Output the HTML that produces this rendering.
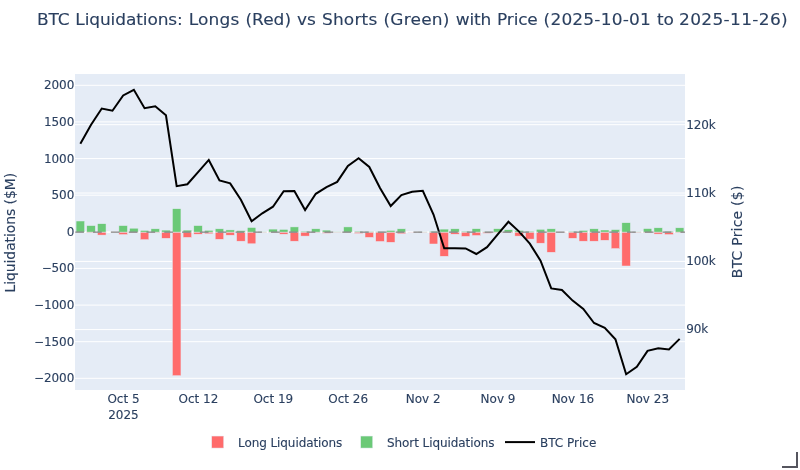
<!DOCTYPE html>
<html lang="en"><head><meta charset="utf-8"><title>BTC Liquidations</title>
<style>html,body{margin:0;padding:0;background:#fff;}body{width:800px;height:470px;overflow:hidden;}svg{display:block;}text{font-family:"DejaVu Sans", Verdana, "Liberation Sans", sans-serif;fill:#2a3f5f;stroke:#2a3f5f;stroke-width:0.12px;}</style></head><body>
<svg width="800" height="470" viewBox="0 0 800 470">
<rect x="0" y="0" width="800" height="470" fill="#ffffff"/>
<rect x="75" y="74" width="610" height="316" fill="#e5ecf6"/>
<g stroke="#ffffff" stroke-width="1">
<line x1="75" x2="685" y1="85.3" y2="85.3"/>
<line x1="75" x2="685" y1="121.9" y2="121.9"/>
<line x1="75" x2="685" y1="158.6" y2="158.6"/>
<line x1="75" x2="685" y1="195.2" y2="195.2"/>
<line x1="75" x2="685" y1="268.4" y2="268.4"/>
<line x1="75" x2="685" y1="305.1" y2="305.1"/>
<line x1="75" x2="685" y1="341.7" y2="341.7"/>
<line x1="75" x2="685" y1="378.3" y2="378.3"/>
<line x1="75" x2="685" y1="124.7" y2="124.7"/>
<line x1="75" x2="685" y1="193.0" y2="193.0"/>
<line x1="75" x2="685" y1="261.4" y2="261.4"/>
<line x1="75" x2="685" y1="329.6" y2="329.6"/>
</g>
<rect x="75" y="231.3" width="610" height="1.6" fill="#ffffff"/>
<g stroke="#e5ecf6" stroke-width="0.5">
<rect x="76.07" y="221.00" width="8.56" height="11.10" fill="#6bc977"/>
<rect x="86.77" y="232.10" width="8.56" height="0.60" fill="#ff6b6b"/>
<rect x="86.77" y="225.60" width="8.56" height="6.50" fill="#6bc977"/>
<rect x="97.47" y="232.10" width="8.56" height="3.00" fill="#ff6b6b"/>
<rect x="97.47" y="223.70" width="8.56" height="8.40" fill="#6bc977"/>
<rect x="118.88" y="232.10" width="8.56" height="2.50" fill="#ff6b6b"/>
<rect x="118.88" y="225.60" width="8.56" height="6.50" fill="#6bc977"/>
<rect x="129.58" y="232.10" width="8.56" height="0.50" fill="#ff6b6b"/>
<rect x="129.58" y="228.20" width="8.56" height="3.90" fill="#6bc977"/>
<rect x="140.28" y="232.10" width="8.56" height="7.60" fill="#ff6b6b"/>
<rect x="140.28" y="230.40" width="8.56" height="1.70" fill="#6bc977"/>
<rect x="150.98" y="232.10" width="8.56" height="0.80" fill="#ff6b6b"/>
<rect x="150.98" y="228.80" width="8.56" height="3.30" fill="#6bc977"/>
<rect x="161.68" y="232.10" width="8.56" height="6.20" fill="#ff6b6b"/>
<rect x="161.68" y="230.10" width="8.56" height="2.00" fill="#6bc977"/>
<rect x="172.39" y="232.10" width="8.56" height="143.60" fill="#ff6b6b"/>
<rect x="172.39" y="208.70" width="8.56" height="23.40" fill="#6bc977"/>
<rect x="183.09" y="232.10" width="8.56" height="5.30" fill="#ff6b6b"/>
<rect x="183.09" y="230.10" width="8.56" height="2.00" fill="#6bc977"/>
<rect x="193.79" y="232.10" width="8.56" height="2.10" fill="#ff6b6b"/>
<rect x="193.79" y="225.60" width="8.56" height="6.50" fill="#6bc977"/>
<rect x="204.49" y="232.10" width="8.56" height="1.70" fill="#ff6b6b"/>
<rect x="204.49" y="230.30" width="8.56" height="1.80" fill="#6bc977"/>
<rect x="215.19" y="232.10" width="8.56" height="7.20" fill="#ff6b6b"/>
<rect x="215.19" y="228.80" width="8.56" height="3.30" fill="#6bc977"/>
<rect x="225.89" y="232.10" width="8.56" height="3.10" fill="#ff6b6b"/>
<rect x="225.89" y="229.90" width="8.56" height="2.20" fill="#6bc977"/>
<rect x="236.60" y="232.10" width="8.56" height="9.10" fill="#ff6b6b"/>
<rect x="236.60" y="230.60" width="8.56" height="1.50" fill="#6bc977"/>
<rect x="247.30" y="232.10" width="8.56" height="11.70" fill="#ff6b6b"/>
<rect x="247.30" y="227.50" width="8.56" height="4.60" fill="#6bc977"/>
<rect x="258.00" y="232.10" width="8.56" height="0.30" fill="#ff6b6b"/>
<rect x="258.00" y="231.80" width="8.56" height="0.30" fill="#6bc977"/>
<rect x="268.70" y="232.10" width="8.56" height="0.50" fill="#ff6b6b"/>
<rect x="268.70" y="229.10" width="8.56" height="3.00" fill="#6bc977"/>
<rect x="279.40" y="232.10" width="8.56" height="2.10" fill="#ff6b6b"/>
<rect x="279.40" y="229.40" width="8.56" height="2.70" fill="#6bc977"/>
<rect x="290.11" y="232.10" width="8.56" height="9.10" fill="#ff6b6b"/>
<rect x="290.11" y="226.90" width="8.56" height="5.20" fill="#6bc977"/>
<rect x="300.81" y="232.10" width="8.56" height="4.00" fill="#ff6b6b"/>
<rect x="300.81" y="231.20" width="8.56" height="0.90" fill="#6bc977"/>
<rect x="311.51" y="232.10" width="8.56" height="0.80" fill="#ff6b6b"/>
<rect x="311.51" y="228.80" width="8.56" height="3.30" fill="#6bc977"/>
<rect x="322.21" y="232.10" width="8.56" height="1.20" fill="#ff6b6b"/>
<rect x="322.21" y="230.10" width="8.56" height="2.00" fill="#6bc977"/>
<rect x="332.91" y="232.10" width="8.56" height="0.30" fill="#ff6b6b"/>
<rect x="332.91" y="231.80" width="8.56" height="0.30" fill="#6bc977"/>
<rect x="343.61" y="232.10" width="8.56" height="0.30" fill="#ff6b6b"/>
<rect x="343.61" y="226.90" width="8.56" height="5.20" fill="#6bc977"/>
<rect x="354.32" y="232.10" width="8.56" height="1.40" fill="#ff6b6b"/>
<rect x="354.32" y="231.20" width="8.56" height="0.90" fill="#6bc977"/>
<rect x="365.02" y="232.10" width="8.56" height="5.30" fill="#ff6b6b"/>
<rect x="365.02" y="231.50" width="8.56" height="0.60" fill="#6bc977"/>
<rect x="375.72" y="232.10" width="8.56" height="9.40" fill="#ff6b6b"/>
<rect x="375.72" y="231.60" width="8.56" height="0.50" fill="#6bc977"/>
<rect x="386.42" y="232.10" width="8.56" height="10.20" fill="#ff6b6b"/>
<rect x="386.42" y="230.40" width="8.56" height="1.70" fill="#6bc977"/>
<rect x="397.12" y="232.10" width="8.56" height="1.70" fill="#ff6b6b"/>
<rect x="397.12" y="228.80" width="8.56" height="3.30" fill="#6bc977"/>
<rect x="407.82" y="232.10" width="8.56" height="0.20" fill="#ff6b6b"/>
<rect x="418.53" y="232.10" width="8.56" height="0.30" fill="#ff6b6b"/>
<rect x="418.53" y="231.90" width="8.56" height="0.20" fill="#6bc977"/>
<rect x="429.23" y="232.10" width="8.56" height="11.90" fill="#ff6b6b"/>
<rect x="429.23" y="231.20" width="8.56" height="0.90" fill="#6bc977"/>
<rect x="439.93" y="232.10" width="8.56" height="24.20" fill="#ff6b6b"/>
<rect x="439.93" y="229.10" width="8.56" height="3.00" fill="#6bc977"/>
<rect x="450.63" y="232.10" width="8.56" height="2.10" fill="#ff6b6b"/>
<rect x="450.63" y="228.80" width="8.56" height="3.30" fill="#6bc977"/>
<rect x="461.33" y="232.10" width="8.56" height="4.30" fill="#ff6b6b"/>
<rect x="461.33" y="231.20" width="8.56" height="0.90" fill="#6bc977"/>
<rect x="472.03" y="232.10" width="8.56" height="3.40" fill="#ff6b6b"/>
<rect x="472.03" y="228.70" width="8.56" height="3.40" fill="#6bc977"/>
<rect x="482.74" y="232.10" width="8.56" height="1.20" fill="#ff6b6b"/>
<rect x="482.74" y="231.70" width="8.56" height="0.40" fill="#6bc977"/>
<rect x="493.44" y="232.10" width="8.56" height="0.60" fill="#ff6b6b"/>
<rect x="493.44" y="228.70" width="8.56" height="3.40" fill="#6bc977"/>
<rect x="504.14" y="232.10" width="8.56" height="0.90" fill="#ff6b6b"/>
<rect x="504.14" y="229.70" width="8.56" height="2.40" fill="#6bc977"/>
<rect x="514.84" y="232.10" width="8.56" height="4.00" fill="#ff6b6b"/>
<rect x="514.84" y="230.40" width="8.56" height="1.70" fill="#6bc977"/>
<rect x="525.54" y="232.10" width="8.56" height="7.00" fill="#ff6b6b"/>
<rect x="525.54" y="231.20" width="8.56" height="0.90" fill="#6bc977"/>
<rect x="536.25" y="232.10" width="8.56" height="11.10" fill="#ff6b6b"/>
<rect x="536.25" y="229.30" width="8.56" height="2.80" fill="#6bc977"/>
<rect x="546.95" y="232.10" width="8.56" height="20.20" fill="#ff6b6b"/>
<rect x="546.95" y="228.80" width="8.56" height="3.30" fill="#6bc977"/>
<rect x="557.65" y="232.10" width="8.56" height="0.20" fill="#ff6b6b"/>
<rect x="568.35" y="232.10" width="8.56" height="6.20" fill="#ff6b6b"/>
<rect x="568.35" y="231.30" width="8.56" height="0.80" fill="#6bc977"/>
<rect x="579.05" y="232.10" width="8.56" height="9.10" fill="#ff6b6b"/>
<rect x="579.05" y="230.40" width="8.56" height="1.70" fill="#6bc977"/>
<rect x="589.75" y="232.10" width="8.56" height="9.10" fill="#ff6b6b"/>
<rect x="589.75" y="228.80" width="8.56" height="3.30" fill="#6bc977"/>
<rect x="600.46" y="232.10" width="8.56" height="8.20" fill="#ff6b6b"/>
<rect x="600.46" y="230.00" width="8.56" height="2.10" fill="#6bc977"/>
<rect x="611.16" y="232.10" width="8.56" height="16.50" fill="#ff6b6b"/>
<rect x="611.16" y="229.60" width="8.56" height="2.50" fill="#6bc977"/>
<rect x="621.86" y="232.10" width="8.56" height="33.90" fill="#ff6b6b"/>
<rect x="621.86" y="222.70" width="8.56" height="9.40" fill="#6bc977"/>
<rect x="632.56" y="232.10" width="8.56" height="0.50" fill="#ff6b6b"/>
<rect x="632.56" y="231.80" width="8.56" height="0.30" fill="#6bc977"/>
<rect x="643.26" y="232.10" width="8.56" height="0.60" fill="#ff6b6b"/>
<rect x="643.26" y="228.60" width="8.56" height="3.50" fill="#6bc977"/>
<rect x="653.96" y="232.10" width="8.56" height="2.00" fill="#ff6b6b"/>
<rect x="653.96" y="227.80" width="8.56" height="4.30" fill="#6bc977"/>
<rect x="664.67" y="232.10" width="8.56" height="2.50" fill="#ff6b6b"/>
<rect x="664.67" y="231.20" width="8.56" height="0.90" fill="#6bc977"/>
<rect x="675.37" y="232.10" width="8.56" height="0.60" fill="#ff6b6b"/>
<rect x="675.37" y="227.80" width="8.56" height="4.30" fill="#6bc977"/>
</g>
<polyline points="80.35,143.75 91.05,124.70 101.75,108.50 112.46,110.75 123.16,95.45 133.86,89.75 144.56,108.20 155.26,106.25 165.96,115.25 176.67,186.20 187.37,184.25 198.07,172.10 208.77,159.95 219.47,180.50 230.17,183.40 240.88,199.80 251.58,221.30 262.28,213.30 272.98,206.70 283.68,191.25 294.38,190.95 305.09,210.00 315.79,193.80 326.49,187.05 337.19,181.90 347.89,166.00 358.60,158.30 369.30,167.00 380.00,188.00 390.70,206.00 401.40,195.05 412.10,191.75 422.81,190.80 433.51,214.50 444.21,248.30 454.91,248.30 465.61,248.45 476.31,254.00 487.02,247.20 497.72,234.30 508.42,221.75 519.12,231.60 529.82,243.60 540.53,260.70 551.23,288.45 561.93,289.95 572.63,300.60 583.33,309.00 594.03,323.00 604.74,327.80 615.44,339.25 626.14,374.25 636.84,366.75 647.54,350.90 658.24,348.30 668.95,349.45 679.65,338.90" fill="none" stroke="#000000" stroke-width="2" stroke-linejoin="miter" stroke-linecap="butt"/>
<line x1="75" x2="685" y1="232.1" y2="232.1" stroke="#808080" stroke-width="1.2" stroke-dasharray="8.7,9.1" stroke-dashoffset="-0.25"/>
<text transform="translate(0,24.8) scale(1,0.925)" y="0" font-size="17"><tspan x="37.0" letter-spacing="-0.10">BTC </tspan><tspan x="75.3" letter-spacing="-0.10">Liquidations: </tspan><tspan x="188.8" letter-spacing="0.14">Longs </tspan><tspan x="245.5" letter-spacing="0.00">(Red) </tspan><tspan x="297.0" letter-spacing="0.00">vs </tspan><tspan x="321.9" letter-spacing="0.20">Shorts </tspan><tspan x="383.5" letter-spacing="0.20">(Green) </tspan><tspan x="455.7" letter-spacing="-0.17">with </tspan><tspan x="497.1" letter-spacing="-0.18">Price </tspan><tspan x="543.6" letter-spacing="0.18">(2025-10-01 </tspan><tspan x="657.1" letter-spacing="-0.20">to </tspan><tspan x="679.0" letter-spacing="0.34">2025-11-26)</tspan></text>
<text x="74.2" y="89.3" font-size="12" letter-spacing="-0.1" text-anchor="end">2000</text>
<text x="74.2" y="125.9" font-size="12" letter-spacing="-0.1" text-anchor="end">1500</text>
<text x="74.2" y="162.6" font-size="12" letter-spacing="-0.1" text-anchor="end">1000</text>
<text x="74.2" y="199.2" font-size="12" letter-spacing="-0.1" text-anchor="end">500</text>
<text x="74.2" y="235.9" font-size="12" letter-spacing="-0.1" text-anchor="end">0</text>
<text x="74.2" y="272.4" font-size="12" letter-spacing="-0.1" text-anchor="end">−500</text>
<text x="74.2" y="309.1" font-size="12" letter-spacing="-0.1" text-anchor="end">−1000</text>
<text x="74.2" y="345.7" font-size="12" letter-spacing="-0.1" text-anchor="end">−1500</text>
<text x="74.2" y="382.3" font-size="12" letter-spacing="-0.1" text-anchor="end">−2000</text>
<text x="686.2" y="128.5" font-size="12" letter-spacing="-0.1">120k</text>
<text x="686.2" y="196.8" font-size="12" letter-spacing="-0.1">110k</text>
<text x="686.2" y="265.2" font-size="12" letter-spacing="-0.1">100k</text>
<text x="686.2" y="333.4" font-size="12" letter-spacing="-0.1">90k</text>
<text x="123.5" y="403" font-size="12" text-anchor="middle">Oct 5</text>
<text x="198.4" y="403" font-size="12" text-anchor="middle">Oct 12</text>
<text x="273.3" y="403" font-size="12" text-anchor="middle">Oct 19</text>
<text x="348.2" y="403" font-size="12" text-anchor="middle">Oct 26</text>
<text x="423.1" y="403" font-size="12" text-anchor="middle">Nov 2</text>
<text x="498.0" y="403" font-size="12" text-anchor="middle">Nov 9</text>
<text x="572.9" y="403" font-size="12" text-anchor="middle">Nov 16</text>
<text x="647.8" y="403" font-size="12" text-anchor="middle">Nov 23</text>
<text x="123.5" y="418.6" font-size="12" text-anchor="middle">2025</text>
<text transform="translate(15.3,232.7) rotate(-90)" font-size="14" letter-spacing="-0.1" text-anchor="middle">Liquidations ($M)</text>
<text transform="translate(742,231.8) rotate(-90)" font-size="14" letter-spacing="0.21" text-anchor="middle">BTC Price ($)</text>
<rect x="211.7" y="436.05" width="12" height="12" stroke="#e5ecf6" stroke-width="0.5" fill="#ff6b6b"/>
<text x="238" y="447.2" font-size="12" letter-spacing="-0.08">Long Liquidations</text>
<rect x="360.7" y="436.05" width="12" height="12" stroke="#e5ecf6" stroke-width="0.5" fill="#6bc977"/>
<text x="387" y="447.2" font-size="12" letter-spacing="-0.08">Short Liquidations</text>
<line x1="505" x2="535" y1="442.1" y2="442.1" stroke="#000" stroke-width="2"/>
<text x="540" y="447.2" font-size="12">BTC Price</text>
<path d="M782 467 H797 V452" fill="none" stroke="#55555e" stroke-width="2" shape-rendering="crispEdges"/>
</svg></body></html>
